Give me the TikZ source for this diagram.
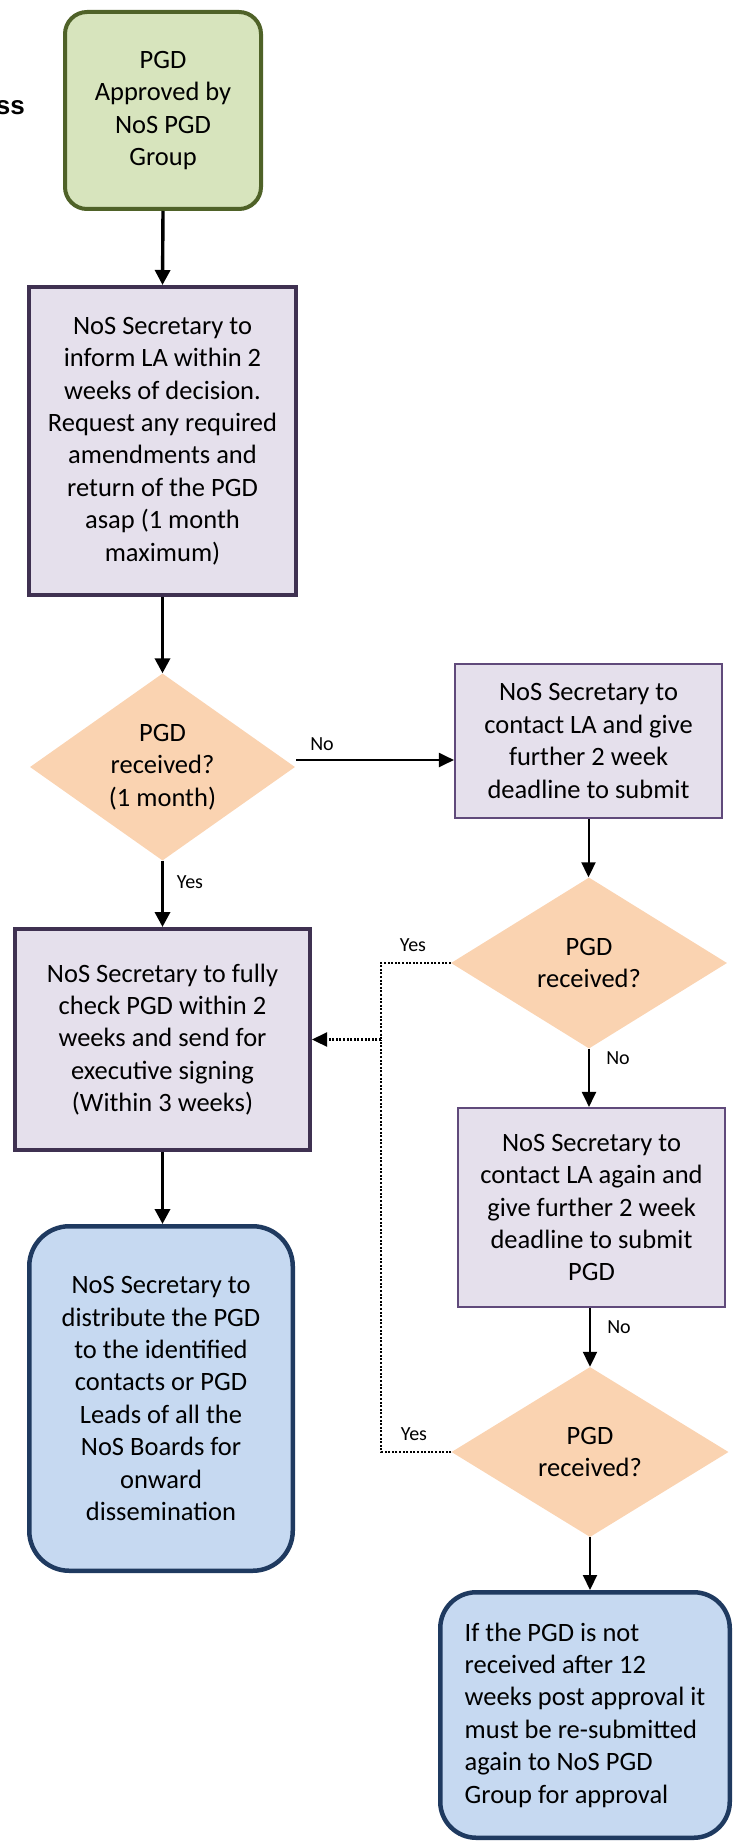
\documentclass[tikz,border=0pt]{standalone}
\usepackage{fontspec}
\setmainfont{Carlito}
\newfontfamily\titlefont{Liberation Sans}
\usetikzlibrary{shapes.geometric,arrows.meta}
\definecolor{gfill}{HTML}{D7E4BD}
\definecolor{gline}{HTML}{4F6228}
\definecolor{pfill}{HTML}{E5E0EC}
\definecolor{pdark}{HTML}{3F3151}
\definecolor{pthin}{HTML}{604A7B}
\definecolor{peach}{HTML}{FAD3B1}
\definecolor{bfill}{HTML}{C6D9F1}
\definecolor{bline}{HTML}{1F3A60}
\begin{document}
\begin{tikzpicture}[x=1pt,y=-1pt,
  every node/.style={font=\fontsize{26.5}{32.4}\selectfont, align=center, inner sep=0pt},
  greenbox/.style={draw=gline, fill=gfill, line width=4pt, rounded corners=22pt},
  darkbox/.style={draw=pdark, fill=pfill, line width=4pt},
  thinbox/.style={draw=pthin, fill=pfill, line width=1.6pt},
  decision/.style={diamond, fill=peach, aspect=1.5},
  bluebox/.style={draw=bline, fill=bfill, line width=4.5pt, rounded corners=40pt},
  thickarrow/.style={line width=3.4pt, -{Triangle[length=15pt,width=15pt]}},
  thinarrow/.style={line width=2pt, -{Triangle[length=15pt,width=14pt]}},
  dotline/.style={line width=2.2pt, dash pattern=on 2pt off 1.6pt},
  lbl/.style={font=\fontsize{20}{24}\selectfont}
]
\useasboundingbox (0,0) rectangle (732,1843);

\node[font={\titlefont\bfseries\fontsize{26}{30}\selectfont}, anchor=base east] (ttl) at (25,115) {ss};

\node[greenbox, minimum width=196pt, minimum height=197pt] (g) at (163,110.5)
  {PGD\\Approved by\\NoS PGD\\Group};
\node[darkbox, minimum width=267pt, minimum height=308pt] (b2) at (162.5,441)
  {NoS Secretary to\\inform LA within 2\\weeks of decision.\\Request any required\\amendments and\\return of the PGD\\asap (1 month\\maximum)};
\node[decision, minimum width=265pt, minimum height=187pt] (d1) at (162.5,767)
  {PGD\\received?\\(1 month)};
\node[thinbox, minimum width=267.5pt, minimum height=154.5pt] (b3) at (588.5,741)
  {NoS Secretary to\\contact LA and give\\further 2 week\\deadline to submit};
\node[decision, minimum width=276pt, minimum height=171pt] (d2) at (589,963)
  {PGD\\received?};
\node[darkbox, minimum width=295pt, minimum height=221pt] (b4) at (162.5,1039.5)
  {NoS Secretary to fully\\check PGD within 2\\weeks and send for\\executive signing\\(Within 3 weeks)};
\node[thinbox, minimum width=267.5pt, minimum height=199.5pt] (b5) at (591.5,1207.5)
  {NoS Secretary to\\contact LA again and\\give further 2 week\\deadline to submit\\PGD};
\node[decision, minimum width=277pt, minimum height=170pt] (d3) at (590,1452)
  {PGD\\received?};
\node[bluebox, minimum width=263.5pt, minimum height=344.5pt] (b6) at (161,1398.5)
  {NoS Secretary to\\distribute the PGD\\to the identified\\contacts or PGD\\Leads of all the\\NoS Boards for\\onward\\dissemination};
\node[bluebox, rounded corners=36pt, minimum width=289.5pt, minimum height=245.5pt, align=left] (b7) at (585,1715)
  {If the PGD is not\\received after 12\\weeks post approval it\\must be re-submitted\\again to NoS PGD\\Group for approval};

% connectors
\draw[thickarrow] (g.south) -- (b2.north);
\draw[thickarrow] (b2.south) -- (d1.north);
\coordinate (noA) at (296,760);
\draw[thinarrow] (noA) -- (noA -| b3.west);
\node[lbl] (lno1) at (322,744) {No};
\draw[thickarrow] (d1.south) -- (b4.north);
\node[lbl] (lyes1) at (190,882) {Yes};
\draw[thinarrow] (b3.south) -- (b3.south |- d2.north);
\draw[thinarrow] (d2.south) -- (d2.south |- b5.north);
\node[lbl] (lno2) at (618,1058) {No};
\draw[thinarrow] (d3.north |- b5.south) -- (d3.north);
\node[lbl] (lno3) at (619,1327) {No};
\draw[thinarrow] (d3.south) -- (d3.south |- b7.north);
\draw[thickarrow] (b4.south) -- (b4.south |- b6.north);

\coordinate (jv) at (381,1039.5);
\draw[dotline] (d2.west) -| (jv);
\draw[dotline] (d3.west) -| (jv);
\draw[dotline, -{Triangle[length=15pt,width=14pt]}] (jv) -- (b4.east);
\node[lbl] (lyes2) at (413,945) {Yes};
\node[lbl] (lyes3) at (414,1434) {Yes};
\end{tikzpicture}
\end{document}
